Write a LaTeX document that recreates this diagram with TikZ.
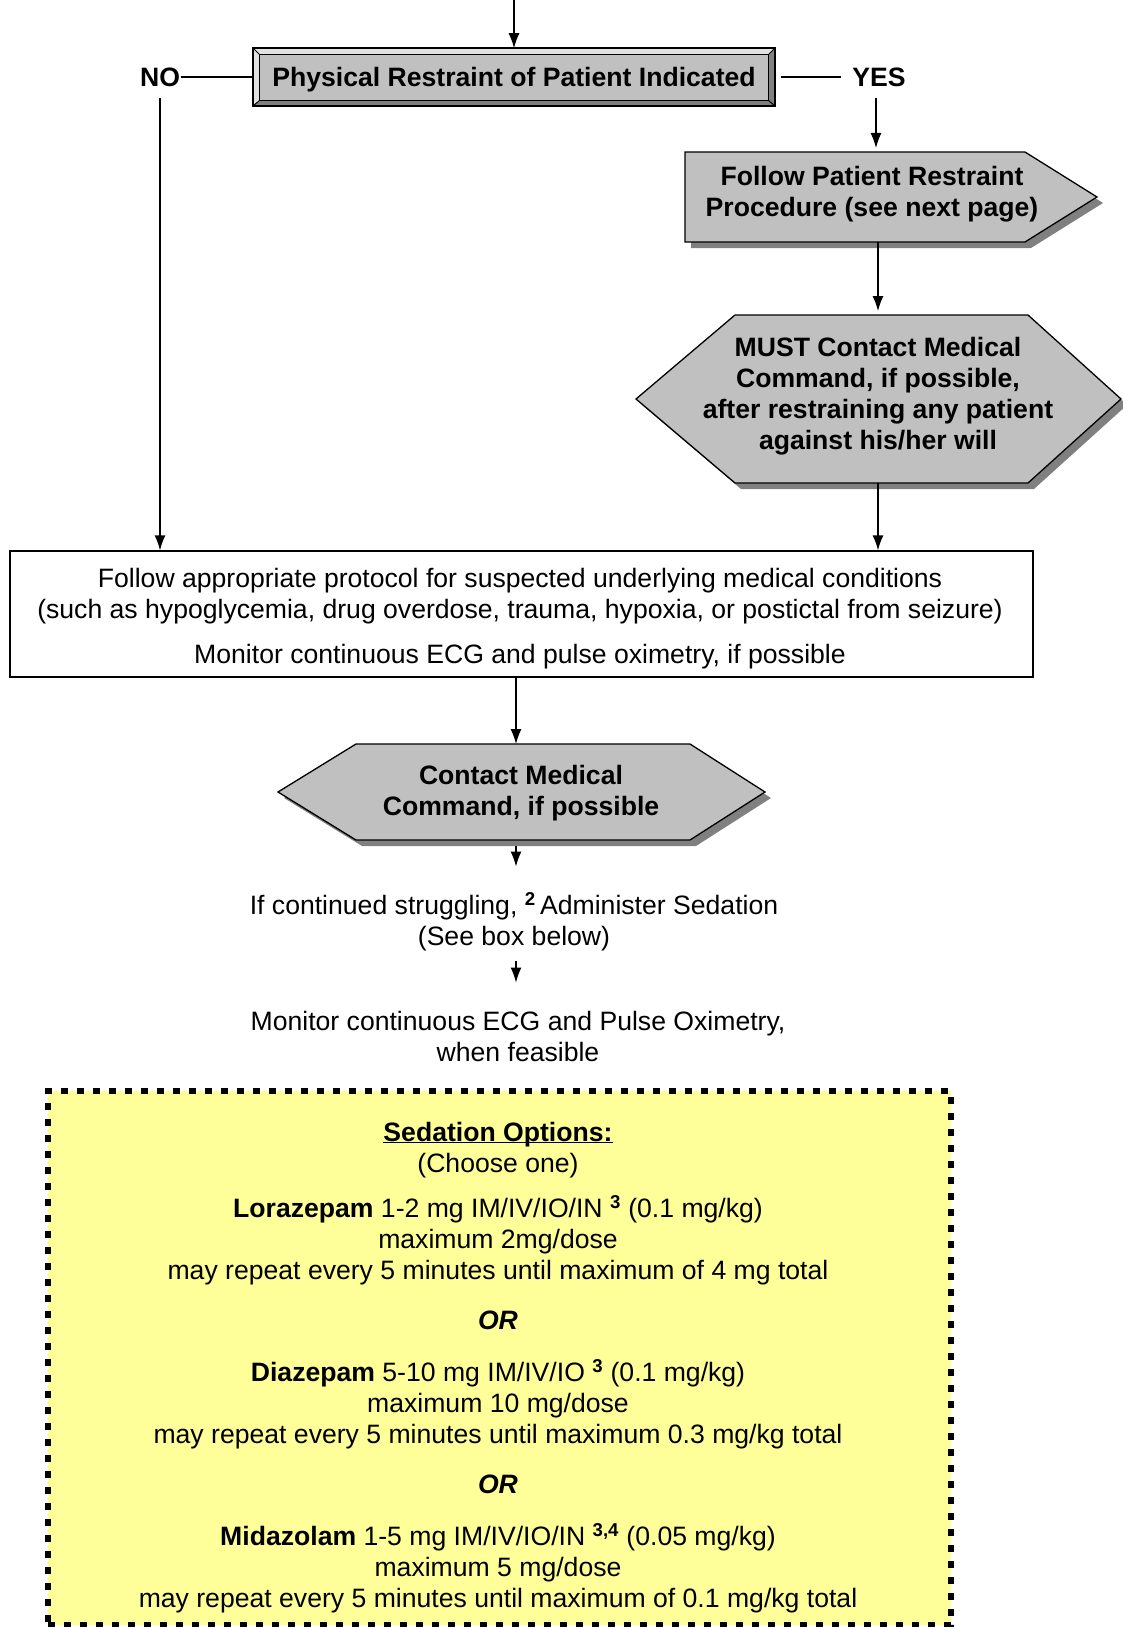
\documentclass[tikz,border=0pt]{standalone}
\usepackage{fontspec}
\setmainfont{Liberation Sans}
\usetikzlibrary{arrows.meta}
\definecolor{boxgray}{HTML}{C0C0C0}
\definecolor{shadowgray}{HTML}{808080}
\definecolor{bevellight}{HTML}{E2E2E2}
\definecolor{notepaper}{HTML}{FFFF99}

\begin{document}
\begin{tikzpicture}[x=1pt,y=-1pt,
  every node/.style={font=\fontsize{26.6}{31}\selectfont},
  conn/.style={line width=1.3pt},
  arr/.style={line width=1.3pt,-{Latex[length=15pt,width=11pt]}},
  polyfill/.style={draw,line width=1.3pt,fill=boxgray},
  dropshade/.style={fill=shadowgray},
  txt/.style={align=center,inner sep=0pt,font=\fontsize{26.6}{31}\selectfont\bfseries},
  note/.style={align=center,inner sep=0pt}]
  \useasboundingbox (0,0) rectangle (1123,1627);

  % decision box
  \coordinate (entry) at (514,0);
  \node (restr) [draw,line width=1.6pt,fill=boxgray,minimum width=520pt,minimum height=56pt,inner sep=0pt,
    text height=19pt,text depth=0pt,font=\fontsize{26.6}{31}\selectfont\bfseries]
    at (514,77) {Physical Restraint of Patient Indicated};
  \coordinate (rnw) at ([xshift=6pt,yshift=-6pt]restr.north west);
  \coordinate (rne) at ([xshift=-6pt,yshift=-6pt]restr.north east);
  \coordinate (rsw) at ([xshift=6pt,yshift=5pt]restr.south west);
  \coordinate (rse) at ([xshift=-6pt,yshift=5pt]restr.south east);
  \fill[bevellight] (restr.north west) -- (restr.north east) -- (rne) -- (rnw) -- cycle;
  \fill[bevellight] (restr.north west) -- (rnw) -- (rsw) -- (restr.south west) -- cycle;
  \fill[shadowgray] (restr.south west) -- (restr.south east) -- (rse) -- (rsw) -- cycle;
  \fill[shadowgray] (restr.north east) -- (restr.south east) -- (rse) -- (rne) -- cycle;
  \draw[line width=1pt] (restr.north west) -- (rnw) (restr.north east) -- (rne)
    (restr.south west) -- (rsw) (restr.south east) -- (rse);
  \draw[line width=1.2pt] (rnw) rectangle (rse);
  \draw[line width=1.6pt] (restr.north west) rectangle (restr.south east);
  \node (no) [txt,inner sep=1pt] at (160,77) {NO};
  \node (yes) [txt,inner sep=1pt] at (879,77) {YES};

  % yes branch
  \fill[dropshade,xshift=6pt,yshift=-6pt] (685,152) -- (1025,152) -- (1097,197) -- (1025,242) -- (685,242) -- cycle;
  \draw[polyfill] (685,152) -- (1025,152) -- (1097,197) -- (1025,242) -- (685,242) -- cycle;
  \node (follow) [txt] at (872,194) {Follow Patient Restraint\\Procedure (see next page)};
  \coordinate (follow-n) at (876,152);
  \coordinate (follow-s) at (878,242);

  \fill[dropshade,xshift=6pt,yshift=-6pt] (636,399) -- (735,315) -- (1028,315) -- (1121,399) -- (1028,483) -- (735,483) -- cycle;
  \draw[polyfill] (636,399) -- (735,315) -- (1028,315) -- (1121,399) -- (1028,483) -- (735,483) -- cycle;
  \node (mustcall) [txt] at (878,396) {MUST Contact Medical\\Command, if possible,\\after restraining any patient\\against his/her will};
  \coordinate (mustcall-n) at (878,315);
  \coordinate (mustcall-s) at (878,483);

  % common path
  \node (main) [draw,line width=1.3pt,minimum width=1023pt,minimum height=126pt] at (521.5,614) {};
  \node (mainnote) [note] at (520,619) {Follow appropriate protocol for suspected underlying medical conditions\\
    (such as hypoglycemia, drug overdose, trauma, hypoxia, or postictal from seizure)\\[14pt]
    Monitor continuous ECG and pulse oximetry, if possible};

  \fill[dropshade,xshift=6pt,yshift=-6pt] (278,792) -- (356,744) -- (690,744) -- (765,792) -- (690,840) -- (356,840) -- cycle;
  \draw[polyfill] (278,792) -- (356,744) -- (690,744) -- (765,792) -- (690,840) -- (356,840) -- cycle;
  \node (callmed) [txt] at (521,793) {Contact Medical\\Command, if possible};
  \coordinate (callmed-n) at (516,744);
  \coordinate (callmed-s) at (516,846);

  \node (sedate) [note] at (514,922) {If continued struggling, \textsuperscript{\bfseries 2}\,Administer Sedation\\(See box below)};
  \node (monitor) [note] at (518,1036) {Monitor continuous ECG and Pulse Oximetry,\\when feasible};

  % sedation options
  \node (optbox) [draw,line width=6pt,dash pattern=on 7pt off 9pt,fill=notepaper,minimum width=903pt,minimum height=534pt]
    at (499.5,1358) {};
  \node (options) [note] at (498,1377) {\underline{\smash{\textbf{Sedation Options:}}}\\
    (Choose one)\\[14pt]
    \textbf{Lorazepam} 1-2 mg IM/IV/IO/IN \textsuperscript{\bfseries 3} (0.1 mg/kg)\\
    maximum 2mg/dose\\
    may repeat every 5 minutes until maximum of 4 mg total\\[19pt]
    \textbf{\textit{OR}}\\[21pt]
    \textbf{Diazepam} 5-10 mg IM/IV/IO \textsuperscript{\bfseries 3} (0.1 mg/kg)\\
    maximum 10 mg/dose\\
    may repeat every 5 minutes until maximum 0.3 mg/kg total\\[19pt]
    \textbf{\textit{OR}}\\[21pt]
    \textbf{Midazolam} 1-5 mg IM/IV/IO/IN \textsuperscript{\bfseries 3,4} (0.05 mg/kg)\\
    maximum 5 mg/dose\\
    may repeat every 5 minutes until maximum of 0.1 mg/kg total};

  % connectors
  \draw[arr] (entry) -- (restr.north);
  \draw[conn] (no.east) -- (restr.west);
  \draw[conn] ([xshift=6pt]restr.east) -- ([xshift=-10pt]yes.west);
  \draw[arr] ([yshift=-10pt]no.south) -- (no.south |- main.north);
  \draw[arr] ([yshift=-10pt]yes.south -| follow-n) -- ([yshift=4pt]follow-n);
  \draw[arr] (follow-s) -- ([yshift=4pt]mustcall-n);
  \draw[arr] (mustcall-s) -- (mustcall-s |- main.north);
  \draw[arr] (main.south -| callmed-n) -- (callmed-n);
  \draw[arr] (callmed-s) -- ([yshift=26pt]sedate.north -| callmed-s);
  \draw[arr] ([yshift=-10pt]sedate.south -| callmed-s) -- ([yshift=28pt]monitor.north -| callmed-s);
\end{tikzpicture}
\end{document}
